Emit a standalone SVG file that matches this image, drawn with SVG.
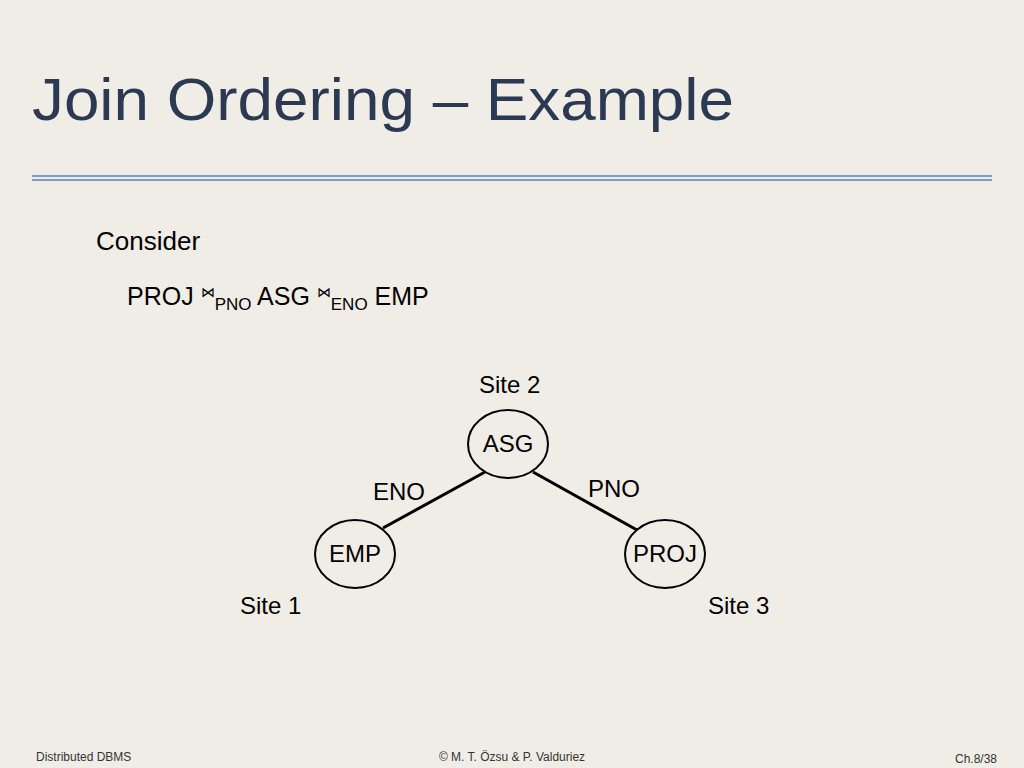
<svg xmlns="http://www.w3.org/2000/svg" width="1024" height="768" viewBox="0 0 1024 768">
<style>
text{font-family:"Liberation Sans",Arial,sans-serif;fill:#000}
.n{fill:none;stroke:#000;stroke-width:2}
.l{font-size:24px}
.f{font-size:12px;fill:#333}
</style>
<rect width="1024" height="768" fill="#f0ede7"/>
<text x="32" y="120" textLength="702" lengthAdjust="spacingAndGlyphs" style="font-size:60px;fill:#2b3a52">Join Ordering – Example</text>
<line x1="32" y1="176" x2="992" y2="176" stroke="#7f9cc6" stroke-width="2"/>
<line x1="32" y1="180" x2="992" y2="180" stroke="#7f9cc6" stroke-width="2"/>
<text x="96" y="250" style="font-size:26px">Consider</text>
<text x="127" y="305" style="font-size:25px">PROJ <tspan style="font-size:14px" dy="-8">⋈</tspan><tspan style="font-size:17px" dy="13">PNO</tspan><tspan dy="-5"> ASG </tspan><tspan style="font-size:14px" dy="-8">⋈</tspan><tspan style="font-size:17px" dy="13">ENO</tspan><tspan dy="-5"> EMP</tspan></text>
<text x="479" y="393" class="l">Site 2</text>
<text x="240" y="614" class="l">Site 1</text>
<text x="708" y="614" class="l">Site 3</text>
<g id="connectors" stroke="#000" stroke-width="3">
<line x1="485" y1="472" x2="383" y2="528"/>
<line x1="533" y1="472" x2="637" y2="530"/>
</g>
<text x="373" y="500" class="l">ENO</text>
<text x="588" y="497" class="l">PNO</text>
<g id="asg"><ellipse cx="508" cy="444" rx="40" ry="34" class="n"/><text x="508" y="452" class="l" text-anchor="middle">ASG</text></g>
<g id="emp"><ellipse cx="355" cy="554" rx="40" ry="34" class="n"/><text x="355" y="562" class="l" text-anchor="middle">EMP</text></g>
<g id="proj"><ellipse cx="665" cy="554" rx="40" ry="34" class="n"/><text x="665" y="562" class="l" text-anchor="middle">PROJ</text></g>
<text x="36" y="761" class="f">Distributed DBMS</text>
<text x="512" y="761" class="f" text-anchor="middle">© M. T. Özsu &amp; P. Valduriez</text>
<text x="997" y="763" class="f" text-anchor="end">Ch.8/38</text>
</svg>
